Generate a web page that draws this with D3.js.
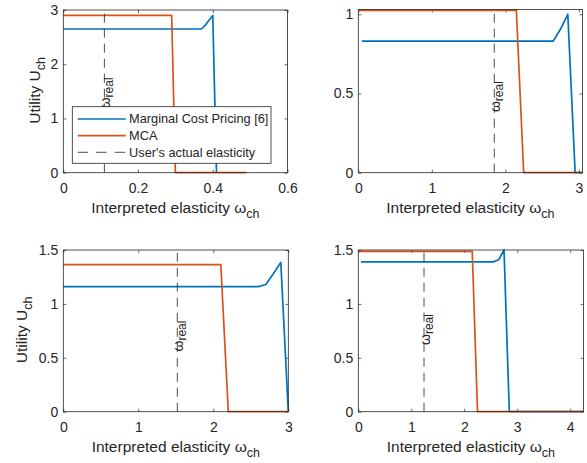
<!DOCTYPE html>
<html>
<head>
<meta charset="utf-8">
<script src="https://cdn.jsdelivr.net/npm/d3@7"></script>
<style>
  html, body { margin: 0; padding: 0; background: #fff; }
  svg { display: block; }
  text { font-family: "Liberation Sans", Arial, Helvetica, sans-serif; fill: #262626; }
</style>
</head>
<body>
<svg id="chart" width="587" height="463"></svg>
<script>
// ---------- data ----------
const seriesNames = ["Marginal Cost Pricing [6]", "MCA", "User's actual elasticity"];

// panel 1 (top-left)
const p1McpX = [0, 0.37, 0.38, 0.39, 0.40, 0.41];
const p1McpY = [2.65, 2.65, 2.72, 2.81, 2.9, 0];
const p1McaX = [0, 0.29, 0.30, 0.49];
const p1McaY = [2.9, 2.9, 0, 0];
const p1Real = 0.11;
const p1RealLabelY = 1.15;
const p1XTicks = [0, 0.2, 0.4, 0.6];
const p1YTicks = [0, 1, 2, 3];
const p1XDomain = [0, 0.6];
const p1YDomain = [0, 3];

// panel 2 (top-right)
const p2McpX = [0.05, 2.65, 2.75, 2.85, 2.95, 3.05];
const p2McpY = [0.83, 0.83, 0.905, 1.0, 0, 0];
const p2McaX = [0, 2.15, 2.25, 3.05];
const p2McaY = [1.025, 1.025, 0, 0];
const p2Real = 1.85;
const p2RealLabelY = 0.37;
const p2XTicks = [0, 1, 2, 3];
const p2YTicks = [0, 0.5, 1];
const p2XDomain = [0, 3.05];
const p2YDomain = [0, 1.03];

// panel 3 (bottom-left)
const p3McpX = [0, 2.6, 2.7, 2.8, 2.9, 3.0];
const p3McpY = [1.16, 1.16, 1.18, 1.28, 1.385, 0];
const p3McaX = [0, 2.1, 2.2, 3.0];
const p3McaY = [1.365, 1.365, 0, 0];
const p3Real = 1.52;
const p3RealLabelY = 0.54;
const p3XTicks = [0, 1, 2, 3];
const p3YTicks = [0, 0.5, 1, 1.5];
const p3XDomain = [0, 3];
const p3YDomain = [0, 1.5];

// panel 4 (bottom-right)
const p4McpX = [0.05, 2.55, 2.65, 2.75, 2.85, 4.25];
const p4McpY = [1.39, 1.39, 1.41, 1.5, 0, 0];
const p4McaX = [0, 2.15, 2.25, 4.25];
const p4McaY = [1.488, 1.488, 0, 0];
const p4Real = 1.24;
const p4RealLabelY = 0.6;
const p4XTicks = [0, 1, 2, 3, 4];
const p4YTicks = [0, 0.5, 1, 1.5];
const p4XDomain = [0, 4.25];
const p4YDomain = [0, 1.5];

// ---------- layout / style ----------
const colMcp = "#0072BD";
const colMca = "#D95319";
const axisCol = "#262626";

const panels = [
  { left: 63.3, right: 287.5, top: 10, bottom: 172.7, mx: p1McpX, my: p1McpY, ax: p1McaX, ay: p1McaY,
    real: p1Real, realY: p1RealLabelY, xt: p1XTicks, yt: p1YTicks, xd: p1XDomain, yd: p1YDomain, ylabX: 40, legend: true },
  { left: 358.3, right: 582.5, top: 9.5, bottom: 172.7, mx: p2McpX, my: p2McpY, ax: p2McaX, ay: p2McaY,
    real: p2Real, realY: p2RealLabelY, xt: p2XTicks, yt: p2YTicks, xd: p2XDomain, yd: p2YDomain, ylabX: null, legend: false },
  { left: 63.3, right: 288.3, top: 250, bottom: 411.7, mx: p3McpX, my: p3McpY, ax: p3McaX, ay: p3McaY,
    real: p3Real, realY: p3RealLabelY, xt: p3XTicks, yt: p3YTicks, xd: p3XDomain, yd: p3YDomain, ylabX: 27, legend: false },
  { left: 358.3, right: 583.5, top: 250, bottom: 411.7, mx: p4McpX, my: p4McpY, ax: p4McaX, ay: p4McaY,
    real: p4Real, realY: p4RealLabelY, xt: p4XTicks, yt: p4YTicks, xd: p4XDomain, yd: p4YDomain, ylabX: null, legend: false }
];

const svg = d3.select("#chart");
const tickFont = 14, labelFont = 15.5, subFont = 12.5, legendFont = 12.8;

panels.forEach((p, i) => {
  const x = d3.scaleLinear().domain(p.xd).range([p.left, p.right]);
  const y = d3.scaleLinear().domain(p.yd).range([p.bottom, p.top]);
  const g = svg.append("g");

  const clipId = "clip" + i;
  svg.append("clipPath").attr("id", clipId).append("rect")
    .attr("x", p.left - 1).attr("y", p.top - 1)
    .attr("width", p.right - p.left + 2).attr("height", p.bottom - p.top + 2);

  // axes ticks (inward)
  const fmt = d => String(d);
  const axB = g.append("g").attr("transform", `translate(0,${p.bottom})`)
    .call(d3.axisBottom(x).tickValues(p.xt).tickFormat(fmt).tickSizeInner(-3).tickSizeOuter(0).tickPadding(10));
  const axT = g.append("g").attr("transform", `translate(0,${p.top})`)
    .call(d3.axisTop(x).tickValues(p.xt).tickFormat("").tickSizeInner(-3).tickSizeOuter(0));
  const axL = g.append("g").attr("transform", `translate(${p.left},0)`)
    .call(d3.axisLeft(y).tickValues(p.yt).tickFormat(fmt).tickSizeInner(-3).tickSizeOuter(0).tickPadding(5));
  const axR = g.append("g").attr("transform", `translate(${p.right},0)`)
    .call(d3.axisRight(y).tickValues(p.yt).tickFormat("").tickSizeInner(-3).tickSizeOuter(0));
  [axB, axT, axL, axR].forEach(a => {
    a.select(".domain").remove();
    a.selectAll("line").attr("stroke", axisCol).attr("stroke-width", 0.7);
    a.selectAll("text").attr("font-size", tickFont).attr("fill", axisCol)
      .style("font-family", '"Liberation Sans", Arial, sans-serif');
  });

  // data lines
  const lineGen = d3.line().x(d => x(d[0])).y(d => y(d[1]));
  const lg = g.append("g").attr("clip-path", `url(#${clipId})`);
  lg.append("path").datum(d3.zip(p.mx, p.my)).attr("d", lineGen)
    .attr("fill", "none").attr("stroke", colMcp).attr("stroke-width", 1.7).attr("stroke-linejoin", "round");
  lg.append("path").datum(d3.zip(p.ax, p.ay)).attr("d", lineGen)
    .attr("fill", "none").attr("stroke", colMca).attr("stroke-width", 1.7).attr("stroke-linejoin", "round");
  lg.append("path").datum([[p.real, p.yd[0]], [p.real, p.yd[1]]]).attr("d", lineGen)
    .attr("fill", "none").attr("stroke", "#222").attr("stroke-width", 0.8).attr("stroke-dasharray", "9,6");

  // omega_real label
  const rl = g.append("text")
    .attr("transform", `translate(${x(p.real) + 5.5},${y(p.realY) - 2}) rotate(-90)`)
    .attr("font-size", 14);
  rl.append("tspan").text("ω");
  rl.append("tspan").attr("font-size", 12).attr("dy", 3).text("real");

  // box
  g.append("rect").attr("x", p.left).attr("y", p.top)
    .attr("width", p.right - p.left).attr("height", p.bottom - p.top)
    .attr("fill", "none").attr("stroke", axisCol).attr("stroke-width", 0.8);

  // x label
  const xl = g.append("text").attr("x", (p.left + p.right) / 2).attr("y", p.bottom + 40)
    .attr("text-anchor", "middle").attr("font-size", labelFont);
  xl.append("tspan").text("Interpreted elasticity ");
  xl.append("tspan").text("ω");
  xl.append("tspan").attr("font-size", subFont).attr("dy", 5).text("ch");

  if (p.ylabX !== null) {
    const yl = g.append("text")
      .attr("transform", `translate(${p.ylabX},${(p.top + p.bottom) / 2 - 1}) rotate(-90)`)
      .attr("text-anchor", "middle").attr("font-size", labelFont);
    yl.append("tspan").text("Utility U");
    yl.append("tspan").attr("font-size", subFont).attr("dy", 5).text("ch");
  }

  if (p.legend) {
    const lx = 72.3, ly = 106.7, lw = 198.7, lh = 56.6;
    const leg = svg.append("g");
    leg.append("rect").attr("x", lx).attr("y", ly).attr("width", lw).attr("height", lh)
      .attr("fill", "#fff").attr("stroke", axisCol).attr("stroke-width", 0.8);
    const rows = [119, 135.7, 152.3];
    const cols = [colMcp, colMca, "#222"];
    seriesNames.forEach((name, k) => {
      leg.append("line").attr("x1", 77.7).attr("x2", 125.7).attr("y1", rows[k]).attr("y2", rows[k])
        .attr("stroke", cols[k]).attr("stroke-width", k < 2 ? 1.7 : 0.8)
        .attr("stroke-dasharray", k < 2 ? null : "10.5,8");
      leg.append("text").attr("x", 129).attr("y", rows[k]).attr("dy", "0.35em")
        .attr("font-size", legendFont).text(name);
    });
  }
});
</script>
</body>
</html>
